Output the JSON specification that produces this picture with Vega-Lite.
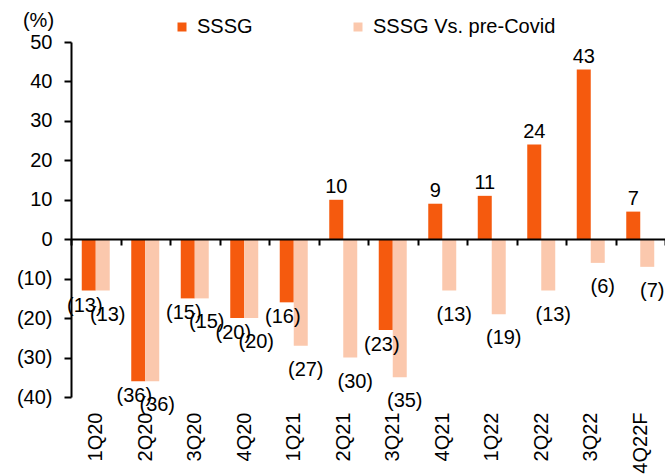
{
  "$schema": "https://vega.github.io/schema/vega-lite/v6.json",
  "width": 594,
  "height": 355,
  "autosize": "none",
  "padding": {"left": 71, "top": 42, "right": 0, "bottom": 78},
  "config": {
    "view": {"stroke": null},
    "font": "Liberation Sans",
    "text": {"font": "Liberation Sans", "fontSize": 20, "color": "#000000"}
  },
  "data": {
    "values": [
      {"q": "1Q20", "series": "SSSG", "value": -13},
      {"q": "2Q20", "series": "SSSG", "value": -36},
      {"q": "3Q20", "series": "SSSG", "value": -15},
      {"q": "4Q20", "series": "SSSG", "value": -20},
      {"q": "1Q21", "series": "SSSG", "value": -16},
      {"q": "2Q21", "series": "SSSG", "value": 10},
      {"q": "3Q21", "series": "SSSG", "value": -23},
      {"q": "4Q21", "series": "SSSG", "value": 9},
      {"q": "1Q22", "series": "SSSG", "value": 11},
      {"q": "2Q22", "series": "SSSG", "value": 24},
      {"q": "3Q22", "series": "SSSG", "value": 43},
      {"q": "4Q22F", "series": "SSSG", "value": 7},
      {"q": "1Q20", "series": "SSSG Vs. pre-Covid", "value": -13},
      {"q": "2Q20", "series": "SSSG Vs. pre-Covid", "value": -36},
      {"q": "3Q20", "series": "SSSG Vs. pre-Covid", "value": -15},
      {"q": "4Q20", "series": "SSSG Vs. pre-Covid", "value": -20},
      {"q": "1Q21", "series": "SSSG Vs. pre-Covid", "value": -27},
      {"q": "2Q21", "series": "SSSG Vs. pre-Covid", "value": -30},
      {"q": "3Q21", "series": "SSSG Vs. pre-Covid", "value": -35},
      {"q": "4Q21", "series": "SSSG Vs. pre-Covid", "value": -13},
      {"q": "1Q22", "series": "SSSG Vs. pre-Covid", "value": -19},
      {"q": "2Q22", "series": "SSSG Vs. pre-Covid", "value": -13},
      {"q": "3Q22", "series": "SSSG Vs. pre-Covid", "value": -6},
      {"q": "4Q22F", "series": "SSSG Vs. pre-Covid", "value": -7}
    ]
  },
  "encoding": {
    "x": {"field": "q", "type": "nominal", "sort": null, "scale": {"paddingInner": 0, "paddingOuter": 0},
      "axis": {"orient": "bottom", "title": null, "labelAngle": -90, "labelPadding": 15, "ticks": false, "domain": false,
        "labelFontSize": 20, "labelColor": "#000000", "labelFont": "Liberation Sans",
        "grid": true, "tickBand": "extent", "gridColor": "#000000", "gridWidth": 2, "gridOpacity": 1, "gridDash": [0, 197, 6, 2000], "zindex": 1}},
    "y": {"field": "value", "type": "quantitative", "scale": {"domain": [-40, 50], "nice": false, "zero": false},
      "axis": {"orient": "left", "values": [-40, -30, -20, -10, 0, 10, 20, 30, 40, 50], "labelOverlap": false,
        "grid": true, "gridColor": {"condition": {"test": "datum.value === 0", "value": "#000000"}, "value": "transparent"}, "gridWidth": 2, "gridOpacity": 1,
        "domainColor": "#000000", "domainWidth": 2, "tickColor": "#000000", "tickWidth": 2, "tickSize": 7, "zindex": 1,
        "labelPadding": 12, "labelFontSize": 20, "labelColor": "#000000", "labelFont": "Liberation Sans",
        "labelExpr": "datum.value < 0 ? '(' + abs(datum.value) + ')' : datum.value + '\u00a0'",
        "title": "(%)", "titleAngle": 0, "titleX": -33, "titleY": -22, "titleAlign": "center", "titleBaseline": "middle",
        "titleFontSize": 20, "titleFontWeight": "normal", "titleColor": "#000000", "titleFont": "Liberation Sans"}}
  },
  "layer": [
    {
      "mark": {"type": "bar"},
      "encoding": {
        "xOffset": {"field": "series", "type": "nominal", "sort": ["SSSG", "SSSG Vs. pre-Covid"], "scale": {"paddingInner": 0, "paddingOuter": 0.768}},
        "color": {"field": "series", "type": "nominal",
          "scale": {"domain": ["SSSG", "SSSG Vs. pre-Covid"], "range": ["#F55A0E", "#FBC8AD"]},
          "legend": {"orient": "none", "legendX": 101, "legendY": -25, "direction": "horizontal", "title": null,
            "symbolType": "square", "symbolSize": 81, "symbolStrokeWidth": 0, "labelFontSize": 20, "labelFont": "Liberation Sans",
            "labelColor": "#000000", "labelOffset": 5, "columnPadding": 95, "labelLimit": 300}}
      }
    },
    {
      "transform": [{"filter": "datum.value >= 0"}],
      "mark": {"type": "text", "baseline": "alphabetic", "dy": -7},
      "encoding": {
        "xOffset": {"field": "series", "type": "nominal", "sort": ["SSSG", "SSSG Vs. pre-Covid"]},
        "text": {"field": "value", "type": "quantitative", "format": "(d"}
      }
    },
    {
      "transform": [{"filter": "datum.value < 0 && datum.series == 'SSSG'"}],
      "mark": {"type": "text", "baseline": "top", "dy": 5, "dx": -4},
      "encoding": {
        "xOffset": {"field": "series", "type": "nominal", "sort": ["SSSG", "SSSG Vs. pre-Covid"]},
        "text": {"field": "value", "type": "quantitative", "format": "(d"}
      }
    },
    {
      "transform": [{"filter": "datum.value < 0 && datum.series != 'SSSG'"}],
      "mark": {"type": "text", "baseline": "top", "dy": 14, "dx": 5},
      "encoding": {
        "xOffset": {"field": "series", "type": "nominal", "sort": ["SSSG", "SSSG Vs. pre-Covid"]},
        "text": {"field": "value", "type": "quantitative", "format": "(d"}
      }
    }
  ]
}
